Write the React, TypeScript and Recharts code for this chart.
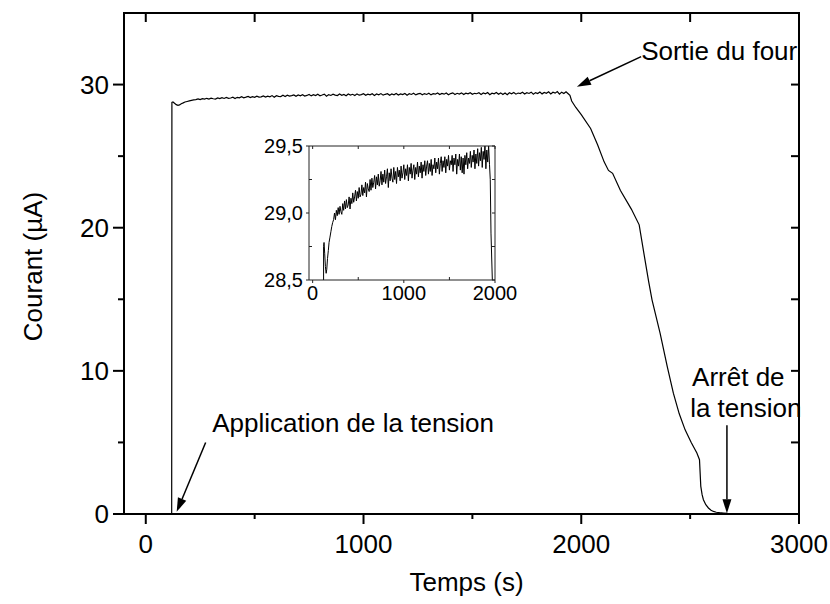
import React from 'react';
import { LineChart, Line, XAxis, YAxis, ReferenceLine, ReferenceDot } from 'recharts';

const FONT = '"Liberation Sans", Arial, Helvetica, sans-serif';

// Courant (µA) en fonction du temps (s)
const baseline: [number, number][] = [
  [0, 0], [119, 0],
];

const startup: [number, number][] = [
  [120, 28.75], [125, 28.78], [132, 28.7], [140, 28.6], [148, 28.55], [155, 28.58],
  [163, 28.66], [172, 28.72], [180, 28.78], [190, 28.82], [200, 28.86], [210, 28.9],
  [220, 28.93], [230, 28.95],
];

const plateau: [number, number][] = [
  [240, 29.0], [250, 28.95], [260, 29.02], [270, 28.98], [280, 29.04], [290, 28.99], [300, 29.05], [310, 29.01], [320, 28.99], [330, 29.07],
  [340, 29.02], [350, 29.09], [360, 29.03], [370, 29.1], [380, 29.04], [390, 29.06], [400, 29.12], [410, 29.03], [420, 29.11], [430, 29.07],
  [440, 29.15], [450, 29.08], [460, 29.12], [470, 29.17], [480, 29.09], [490, 29.16], [500, 29.11], [510, 29.19], [520, 29.12], [530, 29.14],
  [540, 29.21], [550, 29.13], [560, 29.19], [570, 29.15], [580, 29.23], [590, 29.12], [600, 29.22], [610, 29.18], [620, 29.16], [630, 29.25],
  [640, 29.17], [650, 29.26], [660, 29.19], [670, 29.23], [680, 29.28], [690, 29.18], [700, 29.27], [710, 29.21], [720, 29.29], [730, 29.2],
  [740, 29.24], [750, 29.31], [760, 29.21], [770, 29.29], [780, 29.23], [790, 29.32], [800, 29.22], [810, 29.27], [820, 29.33], [830, 29.19],
  [840, 29.3], [850, 29.24], [860, 29.33], [870, 29.26], [880, 29.23], [890, 29.34], [900, 29.25], [910, 29.31], [920, 29.22], [930, 29.34],
  [940, 29.27], [950, 29.32], [960, 29.24], [970, 29.35], [980, 29.26], [990, 29.3], [1000, 29.36], [1010, 29.25], [1020, 29.33], [1030, 29.28],
  [1040, 29.36], [1050, 29.24], [1060, 29.34], [1070, 29.29], [1080, 29.37], [1090, 29.26], [1100, 29.32], [1110, 29.36], [1120, 29.25], [1130, 29.34],
  [1140, 29.29], [1150, 29.38], [1160, 29.27], [1170, 29.35], [1180, 29.3], [1190, 29.38], [1200, 29.26], [1210, 29.36], [1220, 29.31], [1230, 29.39],
  [1240, 29.28], [1250, 29.35], [1260, 29.39], [1270, 29.29], [1280, 29.37], [1290, 29.31], [1300, 29.4], [1310, 29.28], [1320, 29.36], [1330, 29.33],
  [1340, 29.41], [1350, 29.3], [1360, 29.38], [1370, 29.33], [1380, 29.41], [1390, 29.29], [1400, 29.37], [1410, 29.42], [1420, 29.31], [1430, 29.39],
  [1440, 29.34], [1450, 29.42], [1460, 29.3], [1470, 29.4], [1480, 29.35], [1490, 29.43], [1500, 29.32], [1510, 29.39], [1520, 29.36], [1530, 29.43],
  [1540, 29.31], [1550, 29.41], [1560, 29.36], [1570, 29.44], [1580, 29.29], [1590, 29.4], [1600, 29.35], [1610, 29.44], [1620, 29.32], [1630, 29.42],
  [1640, 29.3], [1650, 29.41], [1660, 29.29], [1670, 29.43], [1680, 29.36], [1690, 29.45], [1700, 29.33], [1710, 29.41], [1720, 29.37], [1730, 29.46],
  [1740, 29.34], [1750, 29.43], [1760, 29.38], [1770, 29.47], [1780, 29.33], [1790, 29.44], [1800, 29.37], [1810, 29.48], [1820, 29.35], [1830, 29.45],
  [1840, 29.39], [1850, 29.49], [1860, 29.34], [1870, 29.46], [1880, 29.4], [1890, 29.51], [1900, 29.33], [1910, 29.47], [1920, 29.38], [1930, 29.5],
  [1940, 29.36],
];

const decline: [number, number][] = [
  [1948, 29.25], [1956, 28.85], [1975, 28.4], [2000, 27.9], [2043, 26.93], [2075, 25.8],
  [2105, 24.6], [2125, 24.0], [2144, 23.8], [2180, 22.6], [2230, 21.3], [2266, 20.2],
  [2290, 18.0], [2310, 16.2], [2325, 14.96], [2362, 12.63], [2395, 10.3], [2423, 8.44],
  [2450, 7.0], [2477, 5.88], [2505, 5.0], [2531, 4.26], [2543, 3.79], [2549, 1.93],
  [2555, 1.35], [2561, 1.0], [2572, 0.65], [2584, 0.42], [2596, 0.26], [2607, 0.18],
  [2620, 0.12], [2635, 0.09], [2653, 0.07], [2672, 0.04],
];

const xTicksMain = [0, 500, 1000, 1500, 2000, 2500, 3000];
const yTicksMain = [0, 5, 10, 15, 20, 25, 30];
const xTicksInset = [0, 500, 1000, 1500, 2000];
const yTicksInset = [28.5, 28.75, 29, 29.25, 29.5];
const X_MAIN: [number, number] = [-100, 3000];
const Y_MAIN: [number, number] = [0, 35];

const toRows = (pts: [number, number][]) => pts.map(([t, i]) => ({ t, i }));
const mainSeries = toRows([...baseline, ...startup, ...plateau, ...decline]);
const insetSeries = toRows([...baseline, ...startup, ...plateau, ...decline.slice(0, 6)]);

const comma = (v: number) => v.toFixed(1).replace('.', ',');

// ---- axis tick renderers (tickSize/tickMargin 0 => x,y is on the axis line)
const MainBottomTick = (p: any) => {
  const v = p.payload.value;
  const major = v % 1000 === 0;
  return (
    <g>
      <line x1={p.x} y1={p.y} x2={p.x} y2={p.y + (major ? 10 : 5)} stroke="#000" strokeWidth={2} />
      {major && (
        <text x={p.x} y={p.y + 39} textAnchor="middle" fontSize={26} fontFamily={FONT} fill="#000">
          {v}
        </text>
      )}
    </g>
  );
};
const MainLeftTick = (p: any) => {
  const v = p.payload.value;
  const major = v % 10 === 0;
  return (
    <g>
      <line x1={p.x} y1={p.y} x2={p.x - (major ? 11 : 6)} y2={p.y} stroke="#000" strokeWidth={2} />
      {major && (
        <text x={p.x - 15} y={p.y + 9} textAnchor="end" fontSize={26} fontFamily={FONT} fill="#000">
          {v}
        </text>
      )}
    </g>
  );
};
const MainRightTick = (p: any) => (
  <line x1={p.x} y1={p.y} x2={p.x - 8} y2={p.y} stroke="#000" strokeWidth={2} />
);

// frame edge drawn along a reference segment
const FrameEdge = (p: any) => (
  <line x1={p.x1} y1={p.y1} x2={p.x2} y2={p.y2} stroke="#000" strokeWidth={2} strokeLinecap="square" />
);
// inward tick hanging from the top edge, drawn from the segment's start point
const TopEdgeTick = (p: any) => (
  <line x1={p.x1} y1={p.y1} x2={p.x1} y2={p.y1 + 9} stroke="#000" strokeWidth={2} />
);

const InsetBottomTick = (p: any) => {
  const v = p.payload.value;
  const major = v % 1000 === 0;
  return (
    <g>
      <line x1={p.x} y1={p.y} x2={p.x} y2={p.y + (major ? 3 : -3)} stroke="#222" strokeWidth={1} />
      {major && (
        <text x={p.x} y={p.y + 20} textAnchor="middle" fontSize={20} fontFamily={FONT} fill="#000">
          {v}
        </text>
      )}
    </g>
  );
};
const InsetTopTick = (p: any) => (
  <line x1={p.x} y1={p.y} x2={p.x} y2={p.y + 3} stroke="#222" strokeWidth={1} />
);
const InsetLeftTick = (p: any) => {
  const v = p.payload.value;
  const major = Math.abs(v * 2 - Math.round(v * 2)) < 1e-6;
  return (
    <g>
      <line x1={p.x} y1={p.y} x2={p.x - (major ? 3 : -3)} y2={p.y} stroke="#222" strokeWidth={1} />
      {major && (
        <text x={p.x - 6} y={p.y + 7} textAnchor="end" fontSize={20} fontFamily={FONT} fill="#000">
          {comma(v)}
        </text>
      )}
    </g>
  );
};
const InsetRightTick = (p: any) => (
  <line x1={p.x} y1={p.y} x2={p.x - 3} y2={p.y} stroke="#222" strokeWidth={1} />
);

// ---- annotation arrow (line + filled head at the second point)
const Arrow = (p: any) => {
  const { x1, y1, x2, y2 } = p;
  const a = Math.atan2(y2 - y1, x2 - x1);
  const L = 14;
  const W = 4.5;
  const bx = x2 - L * Math.cos(a);
  const by = y2 - L * Math.sin(a);
  const nx = -Math.sin(a) * W;
  const ny = Math.cos(a) * W;
  return (
    <g>
      <line x1={x1} y1={y1} x2={bx} y2={by} stroke="#000" strokeWidth={1.5} />
      <polygon points={`${x2},${y2} ${bx + nx},${by + ny} ${bx - nx},${by - ny}`} fill="#000" />
    </g>
  );
};

const note = (text: string) => (p: any) => (
  <text x={p.cx} y={p.cy + 9} fontSize={26} fontFamily={FONT} fill="#000">
    {text}
  </text>
);

const XTitle = (p: any) => {
  const vb = p.viewBox;
  return (
    <text x={vb.x + vb.width / 2 + 5} y={vb.y + 77} textAnchor="middle" fontSize={26} fontFamily={FONT} fill="#000">
      Temps (s)
    </text>
  );
};
const YTitle = (p: any) => {
  const vb = p.viewBox;
  const cx = 33;
  const cy = vb.y + vb.height / 2 + 3;
  return (
    <text
      x={cx}
      y={cy}
      transform={`rotate(-90 ${cx} ${cy})`}
      textAnchor="middle"
      dominantBaseline="central"
      fontSize={26}
      fontFamily={FONT}
      fill="#000"
    >
      Courant (µA)
    </text>
  );
};

export default function App() {
  return (
    <div style={{ position: 'absolute', left: 0, top: 0, width: 830, height: 604, background: '#fff' }}>
      <LineChart id="courant" width={830} height={604} data={mainSeries} margin={{ top: 13, right: 0, bottom: 0, left: 0 }}>
        <XAxis
          xAxisId="mx"
          dataKey="t"
          type="number"
          domain={X_MAIN}
          allowDataOverflow
          ticks={xTicksMain}
          interval={0}
          height={90}
          tickSize={0}
          tickMargin={0}
          tick={MainBottomTick}
          axisLine={{ stroke: '#000', strokeWidth: 2 }}
          label={XTitle}
        />
        <YAxis
          yAxisId="my"
          type="number"
          domain={Y_MAIN}
          allowDataOverflow
          ticks={yTicksMain}
          interval={0}
          width={124}
          tickSize={0}
          tickMargin={0}
          tick={MainLeftTick}
          axisLine={{ stroke: '#000', strokeWidth: 2 }}
          label={YTitle}
        />
        <YAxis
          yAxisId="my2"
          orientation="right"
          dataKey="i"
          type="number"
          domain={Y_MAIN}
          allowDataOverflow
          ticks={yTicksMain}
          interval={0}
          width={31}
          tickSize={0}
          tickMargin={0}
          tick={MainRightTick}
          axisLine={{ stroke: '#000', strokeWidth: 2 }}
        />
        <Line
          xAxisId="mx"
          yAxisId="my"
          dataKey="i"
          type="linear"
          stroke="#000"
          strokeWidth={1.2}
          dot={false}
          isAnimationActive={false}
        />
        {/* frame: top and bottom edges of the plotting area, ticks along the top */}
        <ReferenceLine
          xAxisId="mx"
          yAxisId="my"
          segment={[{ x: X_MAIN[0], y: Y_MAIN[1] }, { x: X_MAIN[1], y: Y_MAIN[1] }]}
          shape={FrameEdge}
          ifOverflow="visible"
        />
        <ReferenceLine
          xAxisId="mx"
          yAxisId="my"
          segment={[{ x: X_MAIN[0], y: Y_MAIN[0] }, { x: X_MAIN[1], y: Y_MAIN[0] }]}
          shape={FrameEdge}
          ifOverflow="visible"
        />
        {xTicksMain.map((v) => (
          <ReferenceLine
            key={`tt${v}`}
            xAxisId="mx"
            yAxisId="my"
            segment={[{ x: v, y: Y_MAIN[1] }, { x: v, y: Y_MAIN[0] }]}
            shape={TopEdgeTick}
            ifOverflow="visible"
          />
        ))}
        <ReferenceLine
          xAxisId="mx"
          yAxisId="my"
          segment={[{ x: 275, y: 5.0 }, { x: 142, y: 0.15 }]}
          shape={Arrow}
          ifOverflow="visible"
        />
        <ReferenceLine
          xAxisId="mx"
          yAxisId="my"
          segment={[{ x: 2275, y: 31.95 }, { x: 1980, y: 29.85 }]}
          shape={Arrow}
          ifOverflow="visible"
        />
        <ReferenceLine
          xAxisId="mx"
          yAxisId="my"
          segment={[{ x: 2669, y: 6.2 }, { x: 2669, y: 0.05 }]}
          shape={Arrow}
          ifOverflow="visible"
        />
        <ReferenceDot xAxisId="mx" yAxisId="my" x={305} y={6.37} shape={note('Application de la tension')} ifOverflow="visible" />
        <ReferenceDot xAxisId="mx" yAxisId="my" x={2275} y={32.38} shape={note('Sortie du four')} ifOverflow="visible" />
        <ReferenceDot xAxisId="mx" yAxisId="my" x={2509} y={9.58} shape={note('Arrêt de')} ifOverflow="visible" />
        <ReferenceDot xAxisId="mx" yAxisId="my" x={2500} y={7.42} shape={note('la tension')} ifOverflow="visible" />
      </LineChart>

      <div style={{ position: 'absolute', left: 240, top: 130 }}>
        <LineChart id="courant-detail" width={290} height={180} data={insetSeries} margin={{ top: 15, right: 20, bottom: 0, left: 0 }}>
          <XAxis
            xAxisId="ix"
            dataKey="t"
            type="number"
            domain={[-40, 2000]}
            ticks={xTicksInset}
            interval={0}
            allowDataOverflow
            height={30}
            tickSize={0}
            tickMargin={0}
            tick={InsetBottomTick}
            axisLine={{ stroke: '#222', strokeWidth: 1 }}
          />
          <XAxis
            xAxisId="ixt"
            orientation="top"
            dataKey="t"
            type="number"
            domain={[-40, 2000]}
            allowDataOverflow
            ticks={xTicksInset}
            interval={0}
            height={1}
            tickSize={0}
            tickMargin={0}
            tick={InsetTopTick}
            axisLine={{ stroke: '#222', strokeWidth: 1 }}
          />
          <YAxis
            yAxisId="iy"
            type="number"
            domain={[28.5, 29.5]}
            ticks={yTicksInset}
            interval={0}
            allowDataOverflow
            width={69}
            tickSize={0}
            tickMargin={0}
            tick={InsetLeftTick}
            axisLine={{ stroke: '#222', strokeWidth: 1 }}
          />
          <YAxis
            yAxisId="iy2"
            orientation="right"
            dataKey="i"
            type="number"
            domain={[28.5, 29.5]}
            allowDataOverflow
            ticks={yTicksInset}
            interval={0}
            width={15}
            tickSize={0}
            tickMargin={0}
            tick={InsetRightTick}
            axisLine={{ stroke: '#222', strokeWidth: 1 }}
          />
          <Line
            xAxisId="ix"
            yAxisId="iy"
            dataKey="i"
            type="linear"
            stroke="#000"
            strokeWidth={1}
            dot={false}
            isAnimationActive={false}
          />
        </LineChart>
      </div>
    </div>
  );
}
